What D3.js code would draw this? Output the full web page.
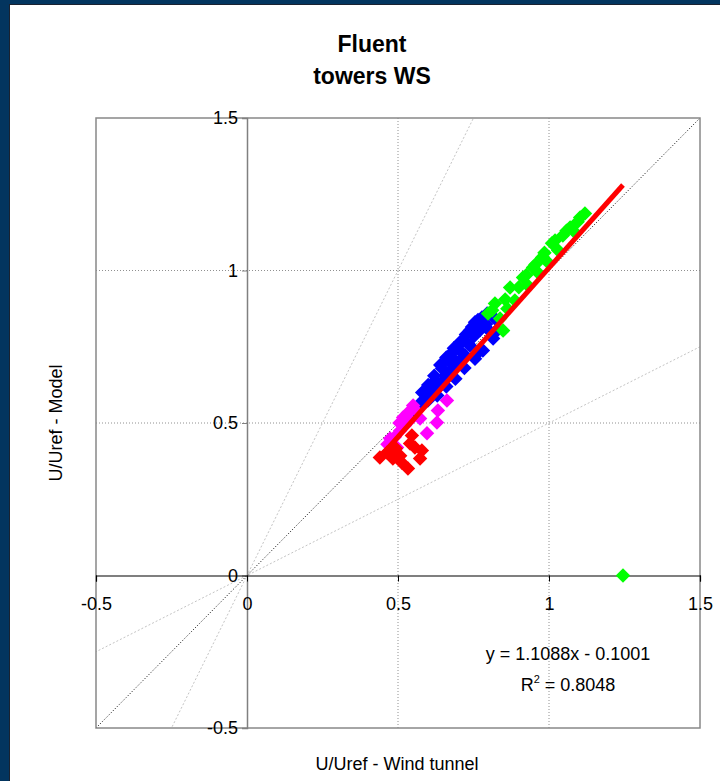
<!DOCTYPE html>
<meta charset="utf-8">
<script src="https://cdn.jsdelivr.net/npm/d3@7"></script>
<style>
body { margin: 0; background: #ffffff; }
text { font-family: "Liberation Sans", Arial, sans-serif; fill: #000; }
</style>
<body>
<script>

// values: [U/Uref wind tunnel, U/Uref model]
var blueSeries = [
  [0.566, 0.557], [0.589, 0.580], [0.606, 0.613], [0.623, 0.639], [0.646, 0.679],
  [0.666, 0.705], [0.679, 0.731], [0.695, 0.751], [0.715, 0.770], [0.738, 0.803],
  [0.755, 0.830], [0.778, 0.846], [0.795, 0.859], [0.821, 0.843], [0.599, 0.574],
  [0.639, 0.623], [0.689, 0.689], [0.722, 0.721], [0.755, 0.711], [0.781, 0.738],
  [0.815, 0.777], [0.828, 0.803], [0.656, 0.656], [0.705, 0.705], [0.738, 0.754],
  [0.556, 0.541], [0.580, 0.600], [0.600, 0.625], [0.620, 0.655], [0.640, 0.690],
  [0.660, 0.715], [0.685, 0.745], [0.705, 0.765], [0.725, 0.790], [0.745, 0.815],
  [0.765, 0.838], [0.612, 0.595], [0.632, 0.615], [0.652, 0.640], [0.672, 0.668],
  [0.692, 0.702], [0.712, 0.730], [0.732, 0.760], [0.752, 0.785], [0.772, 0.805],
  [0.792, 0.825], [0.805, 0.800], [0.575, 0.565], [0.720, 0.680], [0.690, 0.645],
  [0.660, 0.620], [0.630, 0.590], [0.770, 0.735]
];
var greenSeries = [
  [0.798, 0.859], [0.821, 0.892], [0.848, 0.803], [0.838, 0.843], [0.871, 0.944],
  [0.887, 0.902], [0.914, 0.977], [0.930, 0.951], [0.947, 1.010], [0.964, 0.993],
  [0.977, 1.043], [0.997, 1.026], [1.010, 1.089], [1.030, 1.066], [1.046, 1.115],
  [1.070, 1.141], [1.086, 1.125], [1.103, 1.174], [1.119, 1.187], [0.812, 0.870],
  [0.855, 0.905], [0.862, 0.875], [0.900, 0.945], [0.925, 0.985], [0.955, 1.020],
  [0.985, 1.058], [1.020, 1.098], [1.058, 1.130], [1.095, 1.160], [1.245, 0.0]
];
var magentaSeries = [
  [0.662, 0.574], [0.632, 0.541], [0.629, 0.502], [0.596, 0.466], [0.517, 0.518],
  [0.507, 0.475], [0.497, 0.420], [0.483, 0.426], [0.533, 0.534], [0.550, 0.557],
  [0.523, 0.492], [0.474, 0.449], [0.573, 0.515], [0.490, 0.455], [0.505, 0.500],
  [0.540, 0.510], [0.560, 0.540], [0.465, 0.430]
];
var redSeries = [
  [0.440, 0.387], [0.464, 0.403], [0.483, 0.384], [0.507, 0.393], [0.513, 0.370],
  [0.533, 0.351], [0.546, 0.459], [0.556, 0.420], [0.573, 0.384], [0.579, 0.410],
  [0.493, 0.416], [0.540, 0.433]
];
var seriesColors = ["#0000ff", "#00ff00", "#ff00ff", "#ff0000"];

var tickValues = [-0.5, 0, 0.5, 1, 1.5];
var gridValues = [0.5, 1];
var trendSlope = 1.1088, trendIntercept = -0.1001;
var refSlopes = [2, 0.5];

var width = 720, height = 781;
var pLeft = 96, pRight = 700, pTop = 118, pBottom = 728;

var svg = d3.select("body").append("svg")
    .attr("width", width)
    .attr("height", height);

// dark blue frame
svg.append("rect").attr("width", width).attr("height", height).attr("fill", "#03355f");
svg.append("rect").attr("x", 9).attr("y", 4).attr("width", width - 9).attr("height", height - 4).attr("fill", "#1b2230");
svg.append("rect").attr("x", 10).attr("y", 5).attr("width", width - 10).attr("height", height - 5).attr("fill", "#ffffff");

var x = d3.scaleLinear().domain([-0.5, 1.5]).range([pLeft, pRight]);
var y = d3.scaleLinear().domain([-0.5, 1.5]).range([pBottom, pTop]);
var fmt = function(d) { return String(d); };

// grid
svg.append("g").selectAll("line").data(gridValues).enter().append("line")
    .attr("x1", function(d) { return x(d); }).attr("x2", function(d) { return x(d); })
    .attr("y1", pTop).attr("y2", pBottom)
    .attr("stroke", "#909090").attr("stroke-dasharray", "1,2");
svg.append("g").selectAll("line").data(gridValues).enter().append("line")
    .attr("y1", function(d) { return y(d); }).attr("y2", function(d) { return y(d); })
    .attr("x1", pLeft).attr("x2", pRight)
    .attr("stroke", "#909090").attr("stroke-dasharray", "1,2");

// reference lines y = 2x and y = 0.5x, clipped to the plot
svg.append("clipPath").attr("id", "plotclip").append("rect")
    .attr("x", pLeft).attr("y", pTop).attr("width", pRight - pLeft).attr("height", pBottom - pTop);
var refG = svg.append("g").attr("clip-path", "url(#plotclip)");
refG.selectAll("line.ref").data(refSlopes).enter().append("line")
    .attr("class", "ref")
    .attr("x1", x(-1)).attr("y1", function(d) { return y(-d); })
    .attr("x2", x(2)).attr("y2", function(d) { return y(2 * d); })
    .attr("stroke", "#c4c4c4").attr("stroke-dasharray", "2,2");
refG.append("line")
    .attr("x1", x(-0.5)).attr("y1", y(-0.5))
    .attr("x2", x(1.5)).attr("y2", y(1.5))
    .attr("stroke", "#000").attr("stroke-dasharray", "1,2");

// plot border
svg.append("rect")
    .attr("x", pLeft).attr("y", pTop).attr("width", pRight - pLeft).attr("height", pBottom - pTop)
    .attr("fill", "none").attr("stroke", "#888").attr("stroke-width", 1.5);

// y axis at x = 0
var yAxis = d3.axisLeft(y).tickValues(tickValues).tickSize(5).tickFormat(fmt).tickPadding(4);
var gy = svg.append("g").attr("transform", "translate(" + x(0) + ",0)").call(yAxis);
gy.select(".domain").attr("stroke", "#808080").attr("stroke-width", 1.5);
gy.selectAll(".tick line").attr("stroke", "#808080");
gy.selectAll("text").attr("font-size", 18).attr("font-family", "Liberation Sans, Arial, sans-serif").attr("fill", "#000");

// x axis at y = 0
var xAxis = d3.axisBottom(x).tickValues(tickValues).tickSize(6).tickFormat(fmt).tickPadding(16);
var gx = svg.append("g").attr("transform", "translate(0," + y(0) + ")").call(xAxis);
gx.select(".domain").attr("stroke", "#000").attr("stroke-width", 1.2);
gx.selectAll(".tick line").attr("stroke", "#000");
gx.selectAll("text").attr("font-size", 18).attr("font-family", "Liberation Sans, Arial, sans-serif").attr("fill", "#000");

// points
var diamond = d3.symbol().type(d3.symbolSquare).size(105);
[blueSeries, greenSeries, magentaSeries, redSeries].forEach(function(s, i) {
  svg.append("g").selectAll("path").data(s).enter().append("path")
      .attr("d", diamond)
      .attr("transform", function(d) { return "translate(" + x(d[0]) + "," + y(d[1]) + ") rotate(45)"; })
      .attr("fill", seriesColors[i]);
});

// trend line over the x range of all points
var allPts = blueSeries.concat(greenSeries, magentaSeries, redSeries);
var xExt = d3.extent(allPts, function(d) { return d[0]; });
svg.append("line")
    .attr("x1", x(xExt[0])).attr("y1", y(trendSlope * xExt[0] + trendIntercept))
    .attr("x2", x(xExt[1])).attr("y2", y(trendSlope * xExt[1] + trendIntercept))
    .attr("stroke", "#ff0000").attr("stroke-width", 5);

// titles
svg.append("text").attr("x", 372).attr("y", 52).attr("text-anchor", "middle")
    .attr("font-size", 23).attr("font-weight", "bold").text("Fluent");
svg.append("text").attr("x", 372).attr("y", 84).attr("text-anchor", "middle")
    .attr("font-size", 23).attr("font-weight", "bold").text("towers WS");

svg.append("text").attr("x", 397).attr("y", 770).attr("text-anchor", "middle")
    .attr("font-size", 18).text("U/Uref - Wind tunnel");
svg.append("text").attr("transform", "translate(62,423) rotate(-90)").attr("text-anchor", "middle")
    .attr("font-size", 18).text("U/Uref - Model");

// equation
svg.append("text").attr("x", 568).attr("y", 660).attr("text-anchor", "middle")
    .attr("font-size", 18).text("y = 1.1088x - 0.1001");
var r2 = svg.append("text").attr("x", 568).attr("y", 691).attr("text-anchor", "middle").attr("font-size", 18);
r2.append("tspan").text("R");
r2.append("tspan").attr("font-size", 11).attr("dy", -8).text("2");
r2.append("tspan").attr("dy", 8).text(" = 0.8048");

</script>
</body>
